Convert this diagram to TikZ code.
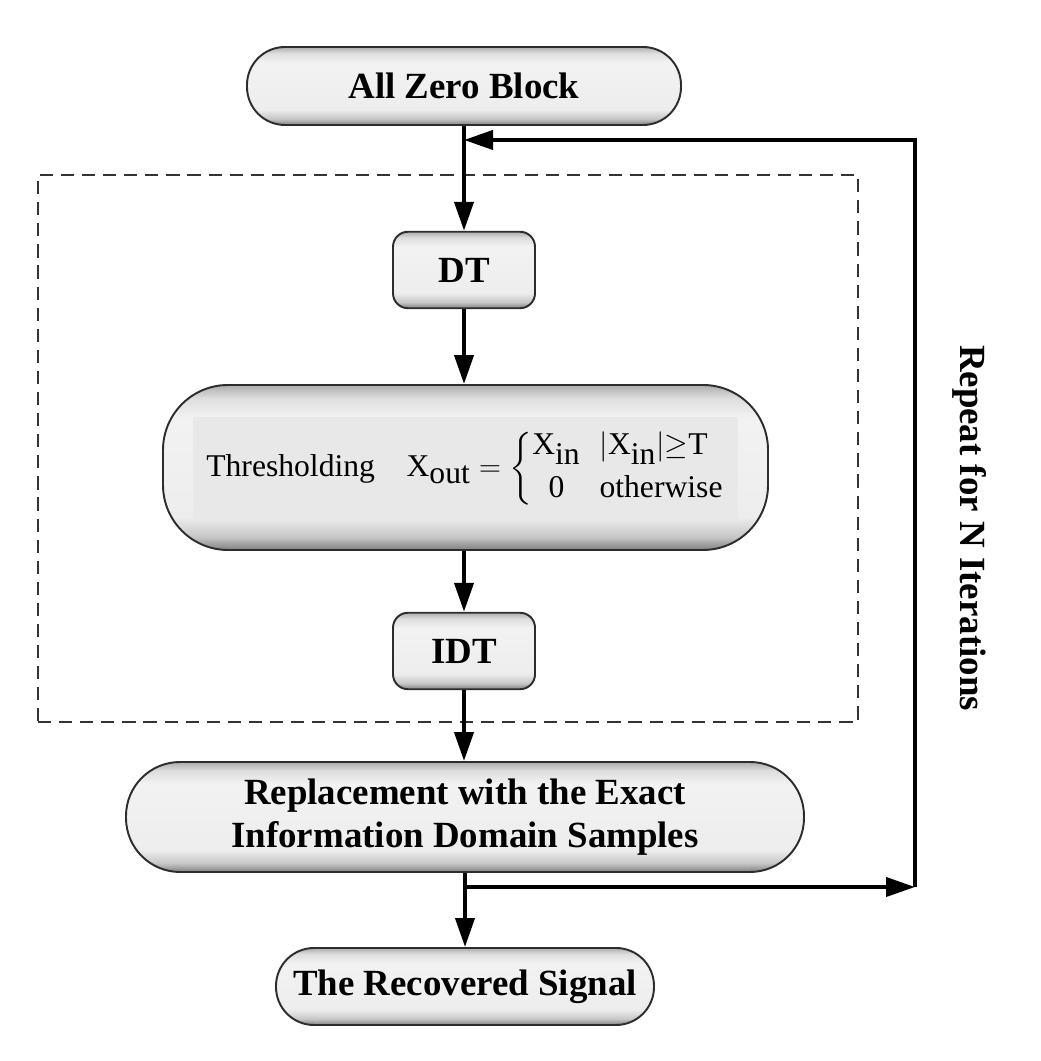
\documentclass[tikz,border=0pt]{standalone}
\usepackage{amsmath}
\usepackage{fontspec}
\setmainfont{Liberation Serif}
\usepackage{tikz}
\usetikzlibrary{arrows.meta, positioning, calc}
\pgfdeclareverticalshading{bevelShade}{100bp}{color(0bp)=(black!50); color(25bp)=(black!50); color(29bp)=(black!22); color(35bp)=(black!7); color(65bp)=(black!5); color(71bp)=(black!13); color(75bp)=(black!32); color(100bp)=(black!32)}

\begin{document}
\begin{tikzpicture}[
    x=1cm, y=1cm,
    >=Stealth,
    every node/.style={font=\bfseries\fontsize{21}{24.5}\selectfont, align=center, text=black},
    block/.style={
      rectangle, draw=edgeTone, line width=1.1pt,
      shade, shading=bevelShade, inner sep=0pt
    },
    pill/.style={block, minimum height=1.56cm, rounded corners=0.76cm},
    tile/.style={block, minimum width=2.84cm, minimum height=1.53cm, rounded corners=0.3cm},
    panel/.style={rectangle, fill=panelFill, inner sep=0pt},
    frame/.style={rectangle, draw=black!80, line width=1.2pt, dash pattern=on 7.5pt off 4.5pt, inner sep=0pt},
    arr/.style={-{Triangle[length=0.58cm, width=0.38cm]}, draw=black, line width=2.3pt},
    side/.style={font=\bfseries\fontsize{21}{24.5}\selectfont, rotate=-90}
  ]
    \definecolor{edgeTone}{RGB}{45,45,45}
    \definecolor{panelFill}{RGB}{232,232,232}

    \useasboundingbox (0,0) rectangle (20.8,21.22);

    \node[frame, minimum width=16.4cm, minimum height=10.94cm] (loopFrame) at (8.96,12.25) {};

    \node[pill, minimum width=8.68cm] (zero) at (9.28,19.50) {All Zero Block};
    \node[tile] (dt) at (9.28,15.82) {DT};
    \node[block, minimum width=12.1cm, minimum height=3.3cm, rounded corners=1.3cm] (thr) at (9.31,11.87) {};
    \node[panel, minimum width=10.9cm, minimum height=2.06cm, font=\mdseries\fontsize{18}{21}\selectfont] (thrPanel) at (9.31,11.85)
      {Thresholding\quad $\mathrm{X}_{\textstyle\mathrm{out}} = \left\{\begin{array}{@{}c@{\hspace{0.6em}}l@{}} \mathrm{X}_{\textstyle\mathrm{in}} & |\mathrm{X}_{\textstyle\mathrm{in}}|{\geq}\mathrm{T}\\[0.12cm] \mathrm{0} & \text{otherwise}\end{array}\right.$};
    \node[tile] (idt) at (9.28,8.20) {IDT};
    \node[pill, minimum width=13.56cm, minimum height=2.2cm, rounded corners=1.08cm] (rep) at (9.30,4.88) {Replacement with the Exact\\Information Domain Samples};
    \node[pill, minimum width=7.56cm, minimum height=1.54cm] (rec) at (9.30,1.49) {The Recovered Signal};
    \node[side] (repeatLbl) at (19.40,10.66) {Repeat for N Iterations};

    \coordinate (joinPt) at (9.28,18.42);
    \coordinate (splitPt) at (9.30,3.48);
    \coordinate (turnLow) at (18.30,3.48);
    \coordinate (turnHigh) at (18.30,18.42);

    \draw[arr] (zero.south) -- (dt.north);
    \draw[arr] (dt.south) -- (dt.south |- thr.north);
    \draw[arr] (thr.south -| idt) -- (idt.north);
    \draw[arr] (idt.south) -- (idt.south |- rep.north);
    \draw[arr] (rep.south) -- (rec.north);
    \draw[arr] (splitPt) -- (turnLow);
    \draw[arr] (turnLow) -- (turnHigh) -- (joinPt);
  \end{tikzpicture}
\end{document}
